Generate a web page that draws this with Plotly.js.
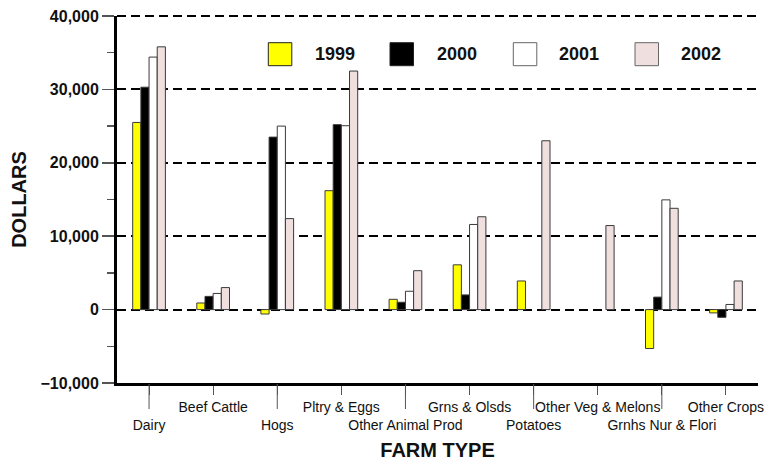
<!DOCTYPE html>
<html>
<head>
<meta charset="utf-8">
<script src="https://cdn.plot.ly/plotly-3.0.1.min.js"></script>
<style>html,body{margin:0;padding:0;background:#fff;}#chart{width:765px;height:461px;}</style>
</head>
<body>
<div id="chart"></div>
<script>
const categories = ["Dairy", "Beef Cattle", "Hogs", "Pltry & Eggs", "Other Animal Prod",
  "Grns & Olsds", "Potatoes", "Other Veg & Melons", "Grnhs Nur & Flori", "Other Crops"];
const years = ["1999", "2000", "2001", "2002"];
const v1999 = [25500, 900, -600, 16200, 1400, 6100, 3900, null, -5300, -450];
const v2000 = [30300, 1800, 23500, 25200, 1000, 2000, null, null, 1700, -1050];
const v2001 = [34400, 2200, 25000, 25050, 2500, 11600, null, null, 14950, 700];
const v2002 = [35800, 3000, 12400, 32500, 5300, 12650, 23000, 11450, 13800, 3900];
const yTickVals = [-10000, 0, 10000, 20000, 30000, 40000];

const series = [v1999, v2000, v2001, v2002];
const colors = ["#FFFF00", "#000000", "#FFFFFF", "#EFDFDF"];
const FONT = "Liberation Sans, Arial, Helvetica, sans-serif";

const traces = series.map((vals, k) => ({
  type: "bar",
  name: years[k],
  x: categories,
  y: vals,
  marker: {color: colors[k], line: {color: "#3a3a3a", width: 1}},
  showlegend: false,
  hoverinfo: "x+y+name"
}));

// pixel -> paper helpers for decorations (plot area 117..758 x, 16..383 y)
const L = 117, R = 758, T = 16, B = 383;
const px = p => (p - L) / (R - L);
const py = p => (B - p) / (B - T);

const shapes = [];
const annotations = [];
// top dashed gridline (Plotly drops the grid line at the range edge)
shapes.push({type: "line", xref: "paper", yref: "paper", x0: 0, x1: 1, y0: 1, y1: 1,
  line: {color: "#000", width: 2, dash: "9px,5px"}});
// long ticks under alternating (lower-label) categories
for (let i = 0; i < categories.length; i += 2) {
  shapes.push({type: "line", xref: "x", yref: "paper", x0: i, x1: i,
    y0: py(384), y1: py(409), line: {color: "#555", width: 1}});
}
// legend (manual, large swatches)
const swX = [268.3, 390, 513.3, 635];
const txX = [313.3, 435, 556.7, 679.3];
years.forEach((yr, k) => {
  shapes.push({type: "rect", xref: "paper", yref: "paper",
    x0: px(swX[k]), x1: px(swX[k] + 23.5), y0: py(65.7), y1: py(42.7),
    fillcolor: colors[k], line: {color: k === 0 || k === 1 ? "#222" : "#666", width: 1}});
  annotations.push({xref: "paper", yref: "paper", x: px(txX[k]), y: py(54),
    xanchor: "left", yanchor: "middle", showarrow: false, text: yr,
    font: {family: FONT, size: 18, weight: 700, color: "#111"}});
});

const tickText = categories.map((c, i) => i % 2 === 0 ? " <br>" + c : c);

const layout = {
  width: 765, height: 461,
  margin: {l: L, r: 765 - R, t: T, b: 461 - B, pad: 0},
  paper_bgcolor: "#fff", plot_bgcolor: "#fff",
  barmode: "group", bargap: 0.49, bargroupgap: 0,
  font: {family: FONT, color: "#111"},
  xaxis: {
    type: "category", tickmode: "array", tickvals: categories, ticktext: tickText,
    range: [-0.5, 9.5], showgrid: false, zeroline: false, tickangle: 0,
    showline: true, linecolor: "#000", linewidth: 3,
    ticks: "outside", ticklen: 9, tickcolor: "#555", tickwidth: 1,
    tickfont: {family: FONT, size: 14, color: "#111"},
    title: {text: "FARM TYPE", standoff: 12, font: {family: FONT, size: 20, weight: 700, color: "#111"}}
  },
  yaxis: {
    range: [-10000, 40000], tickmode: "array", tickvals: yTickVals, tickformat: ",d",
    showgrid: true, gridcolor: "#000", gridwidth: 2, griddash: "9px,5px",
    zeroline: false, showline: true, linecolor: "#000", linewidth: 3,
    ticks: "outside", ticklen: 12, tickcolor: "#555", tickwidth: 1.5,
    minor: {dtick: 5000, tick0: 0, ticks: "outside", ticklen: 7, tickcolor: "#555", tickwidth: 1.5, showgrid: false},
    tickfont: {family: FONT, size: 16, weight: 700, color: "#111"},
    title: {text: "DOLLARS", standoff: 9, font: {family: FONT, size: 20, weight: 700, color: "#111"}}
  },
  shapes: shapes,
  annotations: annotations,
  showlegend: false
};

Plotly.newPlot("chart", traces, layout, {displayModeBar: false, staticPlot: true});
</script>
</body>
</html>
